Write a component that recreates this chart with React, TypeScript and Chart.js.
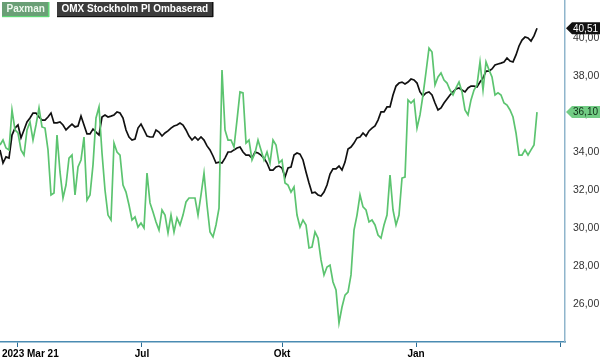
import React, { useEffect, useRef } from "react";
import { Chart, registerables } from "chart.js";

Chart.register(...registerables);

const seriesNames = ["Paxman", "OMX Stockholm PI Ombaserad"];

const paxman = [
  34.37, 34.63, 34.21, 34.11, 36.21, 35.16, 35.0, 34.11, 33.84, 35.16,
  35.58, 34.63, 35.42, 36.32, 35.32, 35.26, 34.11, 31.74, 31.84, 34.89,
  32.95, 31.58, 32.26, 33.68, 33.84, 31.74, 33.21, 33.58, 34.79, 31.47,
  31.74, 33.32, 35.79, 36.37, 33.95, 32.0, 30.68, 30.42, 34.47, 34.0,
  33.84, 32.26, 31.89, 31.21, 30.42, 30.58, 30.05, 30.26, 30.0, 32.89,
  31.32, 30.84, 30.32, 29.89, 30.95, 30.68, 29.74, 30.68, 29.79, 30.53,
  30.16, 30.68, 31.37, 31.58, 31.58, 31.58, 30.68, 31.74, 32.89, 31.21,
  29.79, 29.53, 30.16, 31.05, 38.32, 35.16, 34.63, 34.63, 34.26, 35.68,
  37.16, 37.11, 34.47, 34.63, 33.58, 33.95, 34.63, 34.11, 33.58, 34.0,
  33.42, 34.63, 34.37, 33.42, 33.58, 32.37, 32.26, 31.89, 32.16, 30.68,
  30.05, 30.42, 30.16, 28.95, 29.0, 29.79, 29.47, 28.32, 27.53, 27.95,
  28.05, 27.16, 26.74, 25.0, 25.84, 26.47, 26.63, 27.53, 29.89, 30.68,
  31.74, 31.11, 30.95, 30.32, 30.42, 30.16, 29.63, 29.47, 30.16, 30.68,
  32.79, 30.95, 30.16, 30.68, 32.63, 32.68, 36.74, 36.58, 36.74, 35.26,
  35.95, 37.0, 38.21, 39.47, 39.26, 37.53, 37.95, 38.16, 37.79, 37.63,
  37.26, 37.0, 37.37, 37.68, 37.16, 36.21, 35.95, 36.74, 37.26, 37.53,
  38.74, 37.26, 38.74, 38.32, 37.95, 37.0, 37.11, 37.0, 36.58, 36.47,
  36.21, 35.84, 35.0, 33.84, 33.84, 34.11, 33.84, 34.11, 34.37, 36.1,
];

const omx = [
  34.11, 33.42, 33.74, 33.68, 34.89, 35.26, 35.42, 34.74, 35.16, 35.58,
  35.79, 36.05, 36.05, 35.84, 35.68, 35.68, 35.84, 36.05, 35.53, 35.53,
  35.58, 35.42, 35.16, 35.32, 35.47, 35.32, 35.37, 35.89, 35.42, 34.95,
  34.95, 35.21, 35.05, 34.89, 35.84, 35.95, 35.84, 35.89, 35.95, 36.11,
  36.05, 35.79, 35.16, 34.79, 34.63, 34.68, 35.26, 35.47, 35.16, 34.84,
  34.79, 34.79, 35.16, 35.05, 34.84, 35.0, 35.11, 35.26, 35.37, 35.42,
  35.53, 35.42, 35.16, 34.84, 34.63, 34.79, 34.63, 34.79, 34.63, 34.32,
  34.11, 33.79, 33.42, 33.47, 33.42, 33.68, 34.0, 34.0, 34.11, 34.21,
  34.26, 34.0, 33.84, 33.84, 33.68, 34.0, 33.95, 33.84, 33.68, 33.42,
  33.05, 33.05, 33.21, 33.26, 33.16, 32.68, 33.16, 33.21, 33.84, 33.95,
  33.89, 33.58, 32.95, 32.37, 31.84, 31.89, 31.74, 31.68, 31.89, 32.26,
  32.84, 33.11, 33.11, 33.26, 33.05, 33.47, 34.16, 34.26, 34.47, 34.74,
  34.79, 35.0, 34.84, 35.11, 35.26, 35.37, 35.68, 36.11, 36.11, 36.37,
  36.37, 37.0, 37.47, 37.63, 37.68, 37.58, 37.68, 37.84, 37.79, 37.63,
  37.16, 36.95, 37.11, 37.16, 37.0, 36.58, 36.21, 36.32, 36.58, 36.79,
  37.0, 37.16, 37.32, 37.37, 37.26, 37.16, 37.37, 37.47, 37.47, 37.42,
  37.68, 37.89, 38.26, 38.26, 38.37, 38.58, 38.63, 38.68, 38.74, 38.95,
  38.79, 38.74, 39.11, 39.58, 39.89, 40.05, 40.0, 39.84, 40.11, 40.51,
];

// x positions (sample index) of the date ticks and their labels
const xTickValues = [5.67, 47.33, 94, 138.67, 186.67];
const xTickLabels = ["2023 Mar 21", "Jul", "Okt", "Jan", ""];
const xMax = 188.33;

const yMin = 24;
const yMax = 42;
const yStep = 2;

const lineColors = ["#5cc470", "#111111"];
const FONT = "'Liberation Sans', Arial, Helvetica, sans-serif";

const fmt = (v: number) => v.toFixed(2).replace(".", ",");

const overlayPlugin = {
  id: "overlay",
  afterDraw(chart: any) {
    const { ctx, chartArea } = chart;
    const xs = chart.scales.x;
    const ys = chart.scales.y;
    ctx.save();

    // first x label, left aligned
    ctx.font = `bold 10px ${FONT}`;
    ctx.fillStyle = "#000";
    ctx.textBaseline = "middle";
    ctx.textAlign = "left";
    ctx.fillText(xTickLabels[0], 2, xs.top + 12);

    // last value labels
    const boxes = [
      { data: paxman, fill: "#72cc84", text: "#0f2e17" },
      { data: omx, fill: "#111111", text: "#ffffff" },
    ];
    boxes.forEach((b) => {
      const v = b.data[b.data.length - 1];
      const y = ys.getPixelForValue(v);
      const x0 = chartArea.right + 1;
      const h = 12;
      ctx.beginPath();
      ctx.moveTo(x0, y);
      ctx.lineTo(x0 + 6, y - h / 2);
      ctx.lineTo(600, y - h / 2);
      ctx.lineTo(600, y + h / 2);
      ctx.lineTo(x0 + 6, y + h / 2);
      ctx.closePath();
      ctx.fillStyle = b.fill;
      ctx.fill();
      ctx.font = `10px ${FONT}`;
      ctx.fillStyle = b.text;
      ctx.textAlign = "left";
      ctx.textBaseline = "middle";
      ctx.fillText(fmt(v), 573, y + 0.5);
    });

    // legend
    const items = [
      { label: seriesNames[0], x: 2, w: 47, fill: "#6a9f76", edge: "#5fd676", text: "#eef8ee" },
      { label: seriesNames[1], x: 57, w: 156, fill: "#3c3c3c", edge: "#111111", text: "#ffffff" },
    ];
    items.forEach((it) => {
      ctx.fillStyle = it.fill;
      ctx.fillRect(it.x, 2, it.w, 15);
      ctx.fillStyle = it.edge;
      ctx.fillRect(it.x + it.w - 1, 2, 1.5, 15);
      ctx.fillRect(it.x, 16, it.w, 1.2);
      ctx.font = `bold 10px ${FONT}`;
      ctx.fillStyle = it.text;
      ctx.textAlign = "left";
      ctx.textBaseline = "middle";
      ctx.fillText(it.label, it.x + 4.5, 9.5);
    });
    ctx.restore();
  },
};

export default function App() {
  const ref = useRef<HTMLCanvasElement | null>(null);

  useEffect(() => {
    document.body.style.margin = "0";
    if (!ref.current) return;
    const chart = new Chart(ref.current, {
      type: "line",
      data: {
        datasets: [
          {
            label: seriesNames[0],
            data: paxman.map((v, i) => ({ x: i, y: v })),
            borderColor: lineColors[0],
            borderWidth: 1.7,
            pointRadius: 0,
            tension: 0,
          },
          {
            label: seriesNames[1],
            data: omx.map((v, i) => ({ x: i, y: v })),
            borderColor: lineColors[1],
            borderWidth: 1.7,
            pointRadius: 0,
            tension: 0,
          },
        ],
      },
      options: {
        responsive: false,
        animation: false,
        layout: { padding: 0 },
        plugins: { legend: { display: false }, tooltip: { enabled: false } },
        scales: {
          x: {
            type: "linear",
            min: 0,
            max: xMax,
            grid: {
              display: true,
              drawOnChartArea: false,
              drawTicks: true,
              tickLength: 5,
              color: "#2b6c94",
            },
            border: { display: true, color: "#4a8bb2", width: 1.5 },
            afterBuildTicks: (s: any) => {
              s.ticks = xTickValues.map((v) => ({ value: v }));
            },
            afterFit: (s: any) => {
              s.height = 16;
              s.paddingLeft = 0;
              s.paddingRight = 0;
            },
            ticks: {
              autoSkip: false,
              maxRotation: 0,
              padding: 1,
              color: "#000",
              font: { family: FONT, size: 10, weight: "bold" },
              callback: (_v: any, i: number) => (i === 0 ? "" : xTickLabels[i]),
            },
          },
          y: {
            position: "right",
            min: yMin,
            max: yMax,
            grid: { display: false, drawTicks: false },
            border: { display: true, color: "#8fb5cc", width: 1.5 },
            afterFit: (s: any) => {
              s.width = 35;
              s.paddingTop = 0;
              s.paddingBottom = 0;
            },
            ticks: {
              stepSize: yStep,
              padding: 8,
              color: "#333",
              font: { family: FONT, size: 10.5 },
              callback: (v: any) => (v === yMin || v === yMax ? "" : fmt(Number(v))),
            },
          },
        },
      },
      plugins: [overlayPlugin],
    });
    return () => chart.destroy();
  }, []);

  return (
    <div style={{ width: 600, height: 358 }}>
      <canvas ref={ref} width={600} height={358} />
    </div>
  );
}
